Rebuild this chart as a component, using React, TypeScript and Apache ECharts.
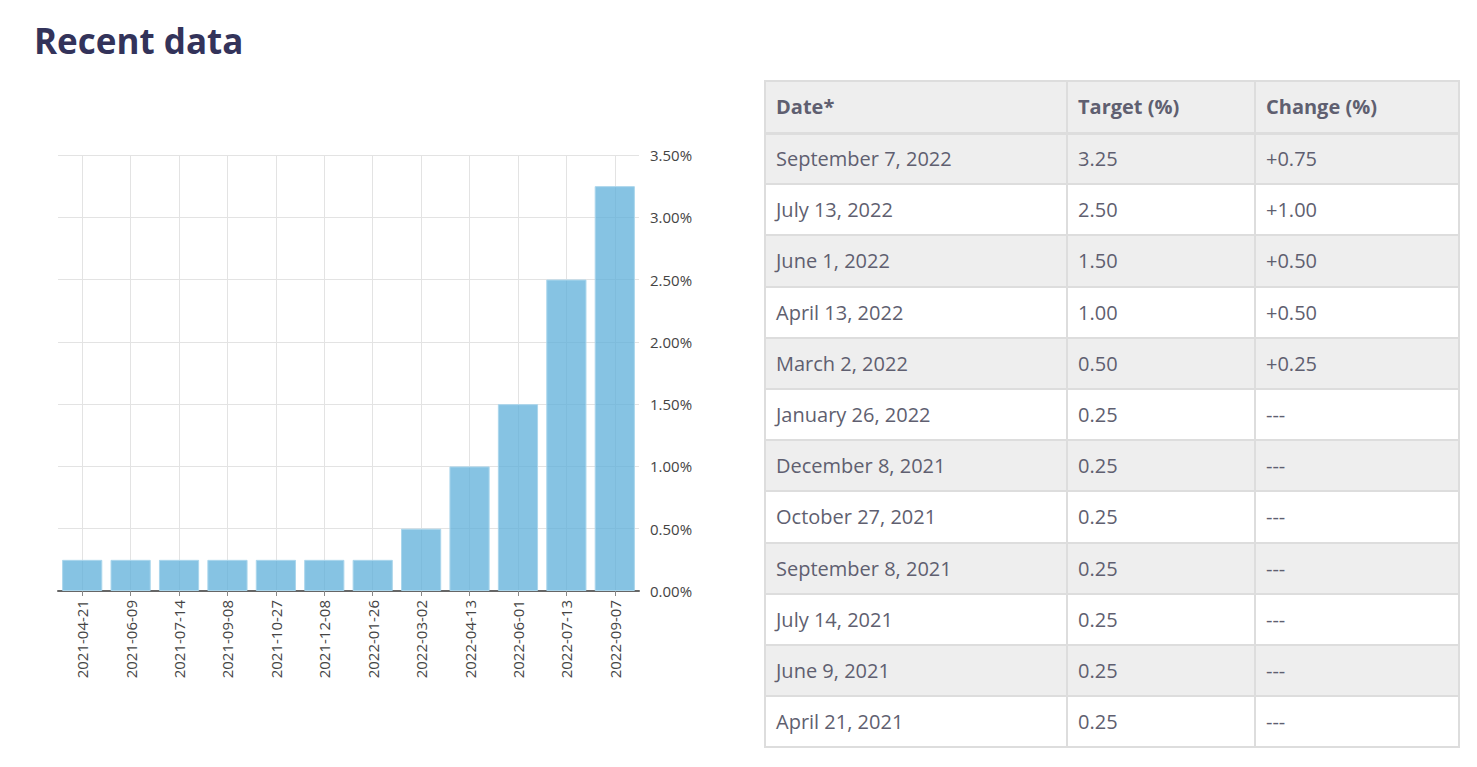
import React, { useEffect, useRef } from "react";
import * as echarts from "echarts";

const meetingDates = [
  "2021-04-21", "2021-06-09", "2021-07-14", "2021-09-08", "2021-10-27", "2021-12-08",
  "2022-01-26", "2022-03-02", "2022-04-13", "2022-06-01", "2022-07-13", "2022-09-07",
];
const meetingLabels = [
  "April 21, 2021", "June 9, 2021", "July 14, 2021", "September 8, 2021", "October 27, 2021",
  "December 8, 2021", "January 26, 2022", "March 2, 2022", "April 13, 2022", "June 1, 2022",
  "July 13, 2022", "September 7, 2022",
];
const targetRates = [0.25, 0.25, 0.25, 0.25, 0.25, 0.25, 0.25, 0.5, 1.0, 1.5, 2.5, 3.25];
const changes = ["---", "---", "---", "---", "---", "---", "---", "+0.25", "+0.50", "+0.50", "+1.00", "+0.75"];
const tableHeaders = ["Date*", "Target (%)", "Change (%)"];
const yTicks = { min: 0, max: 3.5, interval: 0.5 };

const FONT = "'Open Sans', 'Noto Sans', sans-serif";

function Chart() {
  const ref = useRef<HTMLDivElement>(null);
  useEffect(() => {
    if (!ref.current) return;
    const chart = echarts.init(ref.current, undefined, { renderer: "svg" });
    chart.setOption({
      animation: false,
      title: {
        text: "Recent data",
        left: 29,
        top: 18,
        textStyle: { fontSize: 35, fontWeight: 700, fontFamily: FONT, color: "#33335a" },
      },
      grid: { left: 58, right: 121, top: 155, bottom: 176, containLabel: false },
      xAxis: {
        type: "category",
        data: meetingDates,
        axisLine: { show: true, lineStyle: { color: "#666", width: 2 } },
        axisTick: { show: true, alignWithLabel: true, length: 5, lineStyle: { color: "#888" } },
        axisLabel: { rotate: 90, interval: 0, margin: 9, fontSize: 15, color: "#444", fontFamily: FONT },
        splitLine: { show: true, alignWithLabel: true, lineStyle: { color: "#e3e3e3", width: 1 } },
      },
      yAxis: {
        type: "value",
        position: "right",
        min: yTicks.min,
        max: yTicks.max,
        interval: yTicks.interval,
        axisLine: { show: false },
        axisTick: { show: false },
        axisLabel: {
          margin: 11,
          fontSize: 15,
          color: "#444",
          fontFamily: FONT,
          formatter: (v: number) => v.toFixed(2) + "%",
        },
        splitLine: { show: true, lineStyle: { color: "#e3e3e3", width: 1 } },
      },
      series: [
        {
          type: "bar",
          data: targetRates,
          barCategoryGap: "17%",
          itemStyle: {
            color: "rgba(94,175,218,0.75)",
            borderColor: "rgba(170,214,236,1)",
            borderWidth: 1,
          },
        },
      ],
    });
    return () => chart.dispose();
  }, []);
  return <div ref={ref} style={{ position: "absolute", left: 0, top: 0, width: 760, height: 767 }} />;
}

function RatesTable() {
  const n = meetingDates.length;
  const rows = [];
  for (let i = n - 1; i >= 0; i--) rows.push(i);
  const cellBase: React.CSSProperties = {
    border: "2px solid #dddddd",
    padding: "0 0 0 10px",
    textAlign: "left",
    verticalAlign: "middle",
    fontFamily: FONT,
    fontSize: 20,
    color: "#5f5f70",
  };
  return (
    <table
      style={{
        position: "absolute",
        left: 764,
        top: 80,
        width: 694,
        borderCollapse: "collapse",
        tableLayout: "fixed",
      }}
    >
      <colgroup>
        <col style={{ width: 302 }} />
        <col style={{ width: 188 }} />
        <col style={{ width: 204 }} />
      </colgroup>
      <thead>
        <tr style={{ height: 52, background: "#eeeeee" }}>
          {tableHeaders.map((h) => (
            <th key={h} style={{ ...cellBase, fontWeight: 700, borderBottom: "3px solid #dddddd" }}>{h}</th>
          ))}
        </tr>
      </thead>
      <tbody>
        {rows.map((i, k) => (
          <tr key={i} style={{ height: 51.2, background: k % 2 === 0 ? "#eeeeee" : "#ffffff" }}>
            <td style={cellBase}>{meetingLabels[i]}</td>
            <td style={cellBase}>{targetRates[i].toFixed(2)}</td>
            <td style={cellBase}>{changes[i]}</td>
          </tr>
        ))}
      </tbody>
    </table>
  );
}

export default function App() {
  return (
    <div style={{ position: "absolute", left: 0, top: 0, width: 1477, height: 767, background: "#fff" }}>
      <Chart />
      <RatesTable />
    </div>
  );
}
